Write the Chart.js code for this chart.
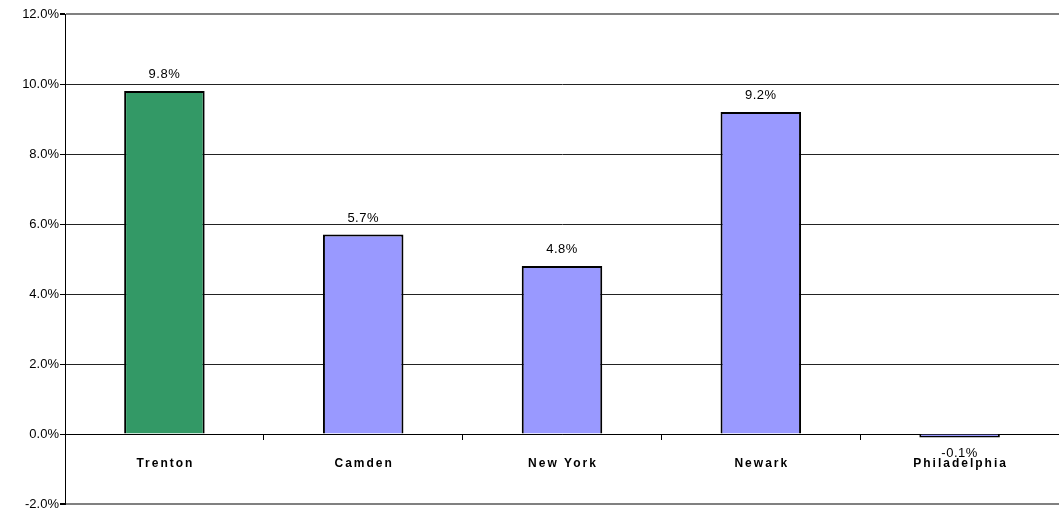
<!DOCTYPE html>
<html>
<head>
<meta charset="utf-8">
<script src="https://cdn.jsdelivr.net/npm/chart.js@4/dist/chart.umd.min.js"></script>
<style>
  html, body { margin: 0; padding: 0; background: #fff; }
  #wrap { width: 1059px; height: 509px; }
</style>
</head>
<body>
<div id="wrap"><canvas id="chart"></canvas></div>
<script>
// chart data
const cities = ['Trenton', 'Camden', 'New York', 'Newark', 'Philadelphia'];
const growth = [9.8, 5.7, 4.8, 9.2, -0.1];
const barColors = ['#339966', '#9999FF', '#9999FF', '#9999FF', '#9999FF'];
const yMin = -2;
const yMax = 12;
const yStep = 2;

const FONT = '"Liberation Sans", Arial, sans-serif';

// value labels above bars (below for negatives) + spaced category labels
const labelPlugin = {
  id: 'labels',
  afterDatasetsDraw(chart) {
    const ctx = chart.ctx;
    const meta = chart.getDatasetMeta(0);
    ctx.save();
    ctx.fillStyle = '#000';
    ctx.textAlign = 'center';
    ctx.textBaseline = 'alphabetic';
    ctx.font = '13px ' + FONT;
    ctx.letterSpacing = '0.5px';
    meta.data.forEach((bar, i) => {
      const v = growth[i];
      const txt = v.toFixed(1) + '%';
      if (v >= 0) ctx.fillText(txt, bar.x, bar.y - 13);
      else ctx.fillText(txt, bar.x, bar.y + 19);
    });

    const xs = chart.scales.x;
    const zeroY = chart.scales.y.getPixelForValue(0);
    ctx.font = 'bold 12px ' + FONT;
    ctx.letterSpacing = '2px';
    cities.forEach((c, i) => {
      ctx.fillText(c, xs.getPixelForValue(i) + 1, zeroY + 33);
    });
    ctx.restore();
  }
};

new Chart(document.getElementById('chart'), {
  type: 'bar',
  data: {
    labels: cities,
    datasets: [{
      data: growth,
      backgroundColor: barColors,
      borderColor: '#000',
      borderWidth: 2,
      barPercentage: 0.405,
      categoryPercentage: 1
    }]
  },
  options: {
    responsive: true,
    maintainAspectRatio: false,
    animation: false,
    layout: { padding: { top: 14, bottom: 5, left: 0, right: 0 } },
    plugins: {
      legend: { display: false },
      tooltip: { enabled: false }
    },
    scales: {
      x: {
        position: { y: 0 },
        offset: true,
        grid: {
          offset: true,
          drawOnChartArea: false,
          drawTicks: true,
          tickLength: 5,
          color: '#000'
        },
        border: { color: '#000', width: 1 },
        ticks: { display: false }
      },
      y: {
        min: yMin,
        max: yMax,
        afterFit(scale) {
          scale.width = 65;
          scale.paddingTop = 0;
          scale.paddingBottom = 0;
        },
        ticks: {
          stepSize: yStep,
          color: '#000',
          font: { family: FONT, size: 13 },
          padding: 1,
          callback: v => v.toFixed(1) + '%'
        },
        grid: {
          color: ctx => (ctx.tick && (ctx.tick.value === yMax || ctx.tick.value === yMin)) ? '#808080' : '#222',
          lineWidth: ctx => (ctx.tick && (ctx.tick.value === yMax || ctx.tick.value === yMin)) ? 2 : 1,
          tickColor: '#000',
          tickLength: 5
        },
        border: { color: '#000', width: 1 }
      }
    }
  },
  plugins: [labelPlugin]
});
</script>
</body>
</html>
